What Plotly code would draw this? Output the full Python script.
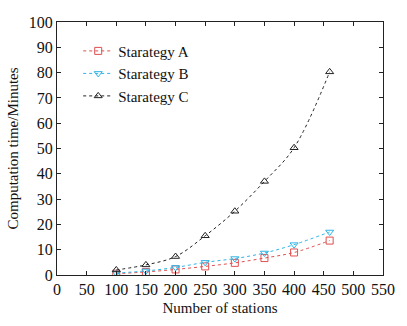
import plotly.graph_objects as go

stations = [100, 150, 200, 250, 300, 350, 400, 460]
strat_a = [0.5, 1.2, 2.2, 3.4, 4.8, 6.7, 8.9, 13.6]
strat_b = [0.8, 1.6, 3.0, 5.0, 6.5, 8.7, 12.0, 17.0]
strat_c = [2.0, 4.0, 7.3, 15.5, 25.2, 37.0, 50.3, 80.3]
names = ["Starategy A", "Starategy B", "Starategy C"]
colors = ["#e0504f", "#2fb4e6", "#222222"]
symbols = ["square-open", "triangle-down-open", "triangle-up-open"]

fig = go.Figure()
for name, vals, c, s in zip(names, [strat_a, strat_b, strat_c], colors, symbols):
    fig.add_trace(go.Scatter(
        x=stations, y=vals, name=name, mode="lines+markers",
        line=dict(color=c, width=1, dash="dot", shape="spline"),
        marker=dict(symbol=s, size=7, color=c, line=dict(width=1, color=c)),
    ))

font = dict(family="Liberation Serif", size=15, color="#111")
tickfont = dict(family="Liberation Serif", size=16, color="#111")
fig.update_layout(
    width=407, height=326,
    margin=dict(l=57, r=24, t=22, b=47),
    paper_bgcolor="white", plot_bgcolor="white",
    font=font,
    showlegend=True,
    legend=dict(x=0.065, y=0.95, xanchor="left", yanchor="top",
                bgcolor="rgba(0,0,0,0)", font=dict(family="Liberation Serif", size=15, color="#111"),
                itemwidth=30, tracegroupgap=4),
)
axis_common = dict(showline=True, linecolor="#222", linewidth=1, mirror="ticks",
                   ticks="inside", ticklen=4, tickcolor="#222", showgrid=False,
                   zeroline=False, tickfont=tickfont)
fig.update_xaxes(range=[0, 550], dtick=50, tick0=0,
                 title=dict(text="Number of stations", font=font, standoff=5), **axis_common)
fig.update_yaxes(range=[0, 100], dtick=10, tick0=0,
                 title=dict(text="Computation time/Minutes", font=font, standoff=6), **axis_common)

fig.write_html("out.html")
